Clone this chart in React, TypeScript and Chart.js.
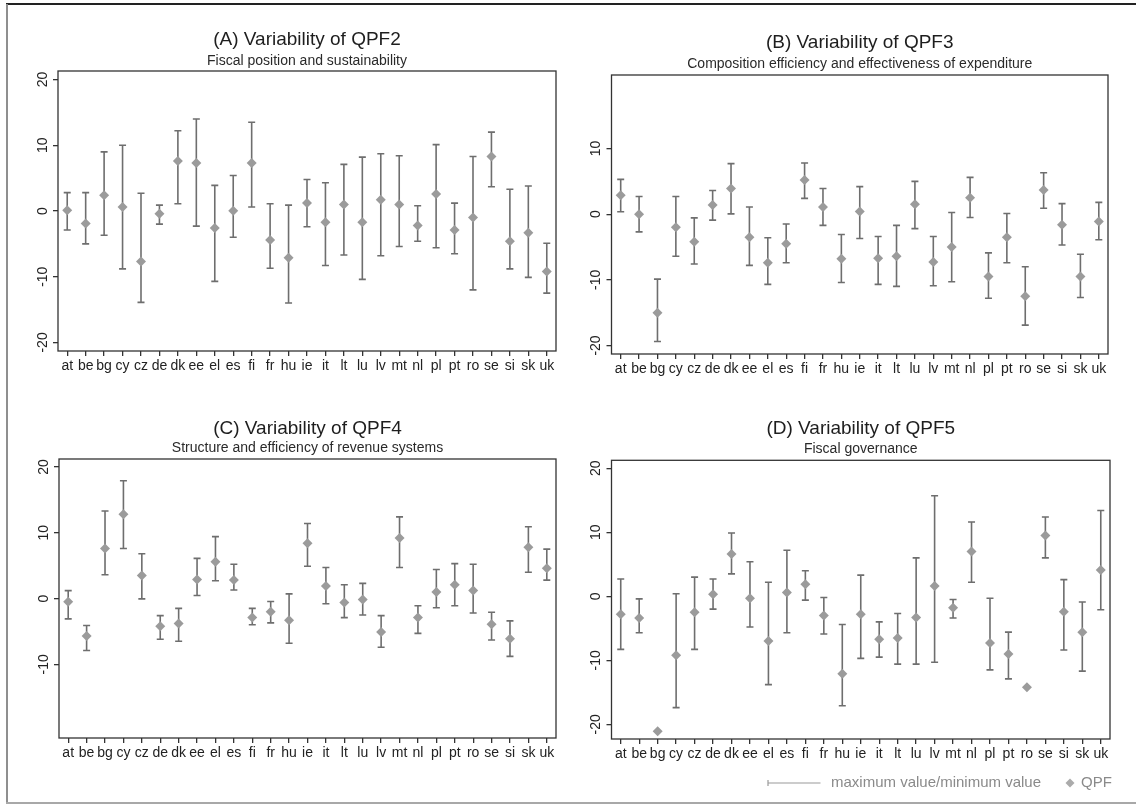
import React, { useEffect, useRef } from "react";
import { Chart, registerables } from "chart.js";

Chart.register(...registerables);

const FONT = "'Liberation Sans', Arial, Helvetica, sans-serif";

const countries = ["at","be","bg","cy","cz","de","dk","ee","el","es","fi","fr","hu","ie","it","lt","lu","lv","mt","nl","pl","pt","ro","se","si","sk","uk"];

// (A) QPF2
const qpf2 = [0.1,-1.9,2.4,0.6,-7.7,-0.4,7.6,7.3,-2.6,0.05,7.3,-4.4,-7.1,1.2,-1.7,1.0,-1.7,1.7,1.0,-2.2,2.6,-2.9,-1.0,8.3,-4.6,-3.3,-9.2];
const qpf2Max = [2.8,2.8,9.0,10.0,2.7,0.9,12.2,14.0,3.9,5.4,13.5,1.1,0.9,4.8,4.3,7.1,8.2,8.7,8.4,0.8,10.1,1.2,8.3,12.0,3.3,3.8,-4.9];
const qpf2Min = [-2.9,-5.0,-3.7,-8.8,-13.9,-2.0,1.1,-2.3,-10.7,-4.0,0.6,-8.7,-14.0,-2.4,-8.3,-6.7,-10.4,-6.8,-5.4,-4.6,-5.6,-6.5,-12.0,3.7,-8.8,-10.1,-12.5];

// (B) QPF3
const qpf3 = [2.9,0,-15.0,-2.0,-4.2,1.4,3.9,-3.5,-7.4,-4.5,5.2,1.1,-6.8,0.4,-6.7,-6.4,1.5,-7.3,-5.0,2.5,-9.5,-3.5,-12.5,3.7,-1.6,-9.5,-1.1];
const qpf3Max = [5.3,2.7,-9.9,2.7,-0.56,3.6,7.7,1.1,-3.6,-1.5,7.8,3.9,-3.1,4.2,-3.4,-1.7,5.0,-3.4,0.25,5.6,-5.9,0.1,-8.0,6.3,1.6,-6.1,1.8];
const qpf3Min = [0.36,-2.7,-19.4,-6.4,-7.6,-0.9,0.05,-7.8,-10.7,-7.4,2.4,-1.7,-10.4,-3.7,-10.7,-11.0,-2.2,-10.9,-10.3,-0.5,-12.8,-7.4,-16.9,0.9,-4.7,-12.7,-3.9];

// (C) QPF4
const qpf4 = [-0.5,-5.7,7.6,12.8,3.5,-4.2,-3.8,2.9,5.6,2.8,-2.9,-2.0,-3.3,8.4,1.9,-0.6,-0.15,-5.1,9.2,-2.9,1.0,2.1,1.2,-3.9,-6.1,7.8,4.6];
const qpf4Max = [1.2,-4.1,13.3,17.9,6.8,-2.6,-1.5,6.1,9.4,5.2,-1.5,-0.46,0.7,11.4,4.7,2.1,2.3,-2.6,12.4,-1.1,4.4,5.3,5.2,-2.1,-3.4,10.9,7.5];
const qpf4Min = [-3.1,-7.9,3.6,7.6,-0.05,-6.2,-6.5,0.46,2.7,1.3,-4.0,-3.7,-6.8,4.9,-0.8,-2.9,-2.5,-7.4,4.7,-5.3,-1.4,-1.1,-2.2,-6.3,-8.8,4.0,2.8];

// (D) QPF5
const qpf5 = [-2.8,-3.4,-21.1,-9.2,-2.5,0.3,6.6,-0.3,-7.0,0.6,1.9,-3.0,-12.1,-2.8,-6.7,-6.5,-3.3,1.6,-1.8,7.0,-7.3,-9.0,-14.2,9.5,-2.4,-5.6,4.1];
const qpf5Max = [2.7,-0.4,null,0.4,3.0,2.7,9.9,5.4,2.2,7.2,4.0,-0.2,-4.4,3.3,-4.0,-2.7,6.0,15.7,-0.5,11.6,-0.3,-5.6,null,12.4,2.6,-0.9,13.4];
const qpf5Min = [-8.3,-5.7,null,-17.4,-8.3,-2.0,3.5,-4.8,-13.8,-5.7,-0.6,-5.9,-17.1,-9.7,-9.5,-10.6,-10.6,-10.3,-3.4,2.2,-11.5,-12.9,null,6.0,-8.4,-11.7,-2.1];

const ticksA = [-20, -10, 0, 10, 20];
const ticksB = [-20, -10, 0, 10];
const ticksC = [-10, 0, 10, 20];
const ticksD = [-20, -10, 0, 10, 20];

const legendRangeLabel = "maximum value/minimum value";
const legendPointLabel = "QPF";

const MARKER_COLOR = "#9b9b9b";
const BAR_COLOR = "#6e6e6e";
const CAP = 3.5;

type Panel = {
  title: string;
  subtitle: string;
  values: (number | null)[];
  maxs: (number | null)[];
  mins: (number | null)[];
  ticks: number[];
  yMin: number;
  yMax: number;
  left: number;
  top: number;
  width: number;
  height: number;
  pad: { left: number; right: number; top: number; bottom: number };
  titleGap: number;
  subGap: number;
  legend: boolean;
};

const panels: Panel[] = [
  {
    title: "(A) Variability of QPF2", subtitle: "Fiscal position and sustainability",
    values: qpf2, maxs: qpf2Max, mins: qpf2Min, ticks: ticksA, yMin: -21.3, yMax: 21.3,
    left: 0, top: 0, width: 568, height: 395,
    pad: { left: 28, right: 12, top: 28.6, bottom: 14 }, titleGap: 1.2, subGap: 1.6, legend: false,
  },
  {
    title: "(B) Variability of QPF3", subtitle: "Composition efficiency and effectiveness of expenditure",
    values: qpf3, maxs: qpf3Max, mins: qpf3Min, ticks: ticksB, yMin: -21.3, yMax: 21.2,
    left: 568, top: 0, width: 568, height: 395,
    pad: { left: 13.5, right: 28, top: 31.6, bottom: 11 }, titleGap: 1.2, subGap: 2.6, legend: false,
  },
  {
    title: "(C) Variability of QPF4", subtitle: "Structure and efficiency of revenue systems",
    values: qpf4, maxs: qpf4Max, mins: qpf4Min, ticks: ticksC, yMin: -21.2, yMax: 21.2,
    left: 0, top: 395, width: 568, height: 412,
    pad: { left: 29, right: 12, top: 21.9, bottom: 39 }, titleGap: 0.2, subGap: 2.3, legend: false,
  },
  {
    title: "(D) Variability of QPF5", subtitle: "Fiscal governance",
    values: qpf5, maxs: qpf5Max, mins: qpf5Min, ticks: ticksD, yMin: -22.3, yMax: 21.25,
    left: 568, top: 395, width: 568, height: 412,
    pad: { left: 13.5, right: 26, top: 21.9, bottom: 38 }, titleGap: 0.9, subGap: 2.9, legend: true,
  },
];

function drawDiamond(ctx: CanvasRenderingContext2D, x: number, y: number, r: number) {
  ctx.beginPath();
  ctx.moveTo(x - r, y);
  ctx.lineTo(x, y - r);
  ctx.lineTo(x + r, y);
  ctx.lineTo(x, y + r);
  ctx.closePath();
  ctx.fill();
}

function makeChart(canvas: HTMLCanvasElement, p: Panel) {
  const overlay = {
    id: "stataOverlay",
    beforeDatasetsDraw(chart: any) {
      const { ctx, scales } = chart;
      const xs = scales.x;
      const ys = scales.y;
      ctx.save();
      ctx.strokeStyle = BAR_COLOR;
      ctx.lineWidth = 1.6;
      p.maxs.forEach((hi, i) => {
        const lo = p.mins[i];
        if (hi == null || lo == null) return;
        const x = xs.getPixelForValue(i);
        const yHi = ys.getPixelForValue(hi);
        const yLo = ys.getPixelForValue(lo);
        ctx.beginPath();
        ctx.moveTo(x, yHi);
        ctx.lineTo(x, yLo);
        ctx.moveTo(x - CAP, yHi);
        ctx.lineTo(x + CAP, yHi);
        ctx.moveTo(x - CAP, yLo);
        ctx.lineTo(x + CAP, yLo);
        ctx.stroke();
      });
      ctx.restore();
    },
    afterDraw(chart: any) {
      const { ctx, chartArea: a } = chart;
      ctx.save();
      ctx.strokeStyle = "#333333";
      ctx.lineWidth = 1.3;
      ctx.strokeRect(a.left, a.top, a.right - a.left, a.bottom - a.top);
      if (p.legend) {
        const ly = 388;
        const x0 = 200;
        const x1 = 252.5;
        ctx.strokeStyle = "#9a9a9a";
        ctx.lineWidth = 1.2;
        ctx.beginPath();
        ctx.moveTo(x0, ly);
        ctx.lineTo(x1, ly);
        ctx.moveTo(x0, ly - 3);
        ctx.lineTo(x0, ly + 3);
        ctx.stroke();
        ctx.fillStyle = "#8a8a8a";
        ctx.font = `15px ${FONT}`;
        ctx.textBaseline = "middle";
        ctx.textAlign = "left";
        ctx.fillText(legendRangeLabel, 263, ly);
        ctx.fillStyle = "#ababab";
        drawDiamond(ctx, 502, ly, 4.5);
        ctx.fillStyle = "#8a8a8a";
        ctx.fillText(legendPointLabel, 513, ly);
      }
      ctx.restore();
    },
  };

  const tickFont = { family: FONT, size: 14 };

  return new Chart(canvas, {
    type: "line",
    data: {
      labels: countries,
      datasets: [
        {
          label: legendPointLabel,
          data: p.values,
          showLine: false,
          pointStyle: "rectRot",
          pointRadius: 5,
          pointHoverRadius: 5,
          pointBackgroundColor: MARKER_COLOR,
          pointBorderWidth: 0,
          borderColor: "rgba(0,0,0,0)",
        } as any,
      ],
    },
    options: {
      animation: false,
      responsive: false,
      maintainAspectRatio: false,
      devicePixelRatio: 1,
      events: [],
      layout: { padding: p.pad },
      plugins: {
        legend: { display: false },
        tooltip: { enabled: false },
        title: {
          display: true,
          text: p.title,
          fullSize: false,
          color: "#1e1e1e",
          font: { family: FONT, size: 19, weight: "normal" as any, lineHeight: 1.2 },
          padding: { top: 0, bottom: p.titleGap },
        },
        subtitle: {
          display: true,
          text: p.subtitle,
          fullSize: false,
          color: "#2a2a2a",
          font: { family: FONT, size: 14, weight: "normal" as any, lineHeight: 1.2 },
          padding: { top: 0, bottom: p.subGap },
        },
      },
      scales: {
        x: {
          type: "category",
          offset: true,
          afterFit: (s: any) => { s.height = 30; },
          grid: { display: true, drawOnChartArea: false, drawTicks: true, tickLength: 5, lineWidth: 1.3, color: "#333333", offset: false },
          border: { display: false },
          ticks: { padding: 2, color: "#222222", font: tickFont, maxRotation: 0, minRotation: 0, autoSkip: false },
        },
        y: {
          type: "linear",
          min: p.yMin,
          max: p.yMax,
          afterBuildTicks: (s: any) => { s.ticks = p.ticks.map((v) => ({ value: v })); },
          afterFit: (s: any) => { s.width = 30; },
          grid: { display: true, drawOnChartArea: false, drawTicks: true, tickLength: 5, lineWidth: 1.3, color: "#333333" },
          border: { display: false },
          ticks: {
            padding: 0,
            color: "#222222",
            font: tickFont,
            minRotation: 90,
            maxRotation: 90,
            crossAlign: "center",
            callback: (v: any) => String(v),
          },
        },
      },
    },
    plugins: [overlay],
  } as any);
}

function PanelChart({ p }: { p: Panel }) {
  const ref = useRef<HTMLCanvasElement | null>(null);
  useEffect(() => {
    if (!ref.current) return;
    const chart = makeChart(ref.current, p);
    return () => chart.destroy();
  }, [p]);
  return (
    <canvas
      ref={ref}
      width={p.width}
      height={p.height}
      style={{ position: "absolute", left: p.left, top: p.top, width: p.width, height: p.height }}
    />
  );
}

export default function App() {
  return (
    <div style={{ position: "absolute", left: 0, top: 0, width: 1136, height: 807, background: "#ffffff", overflow: "hidden" }}>
      <div style={{ position: "absolute", left: 6, top: 3, width: 1130, height: 2, background: "#222222" }} />
      <div style={{ position: "absolute", left: 6, top: 4, width: 2, height: 799, background: "#8f8f8f" }} />
      <div style={{ position: "absolute", left: 6, top: 802, width: 1130, height: 2, background: "#a8a8a8" }} />
      {panels.map((p, i) => (
        <PanelChart key={i} p={p} />
      ))}
    </div>
  );
}
